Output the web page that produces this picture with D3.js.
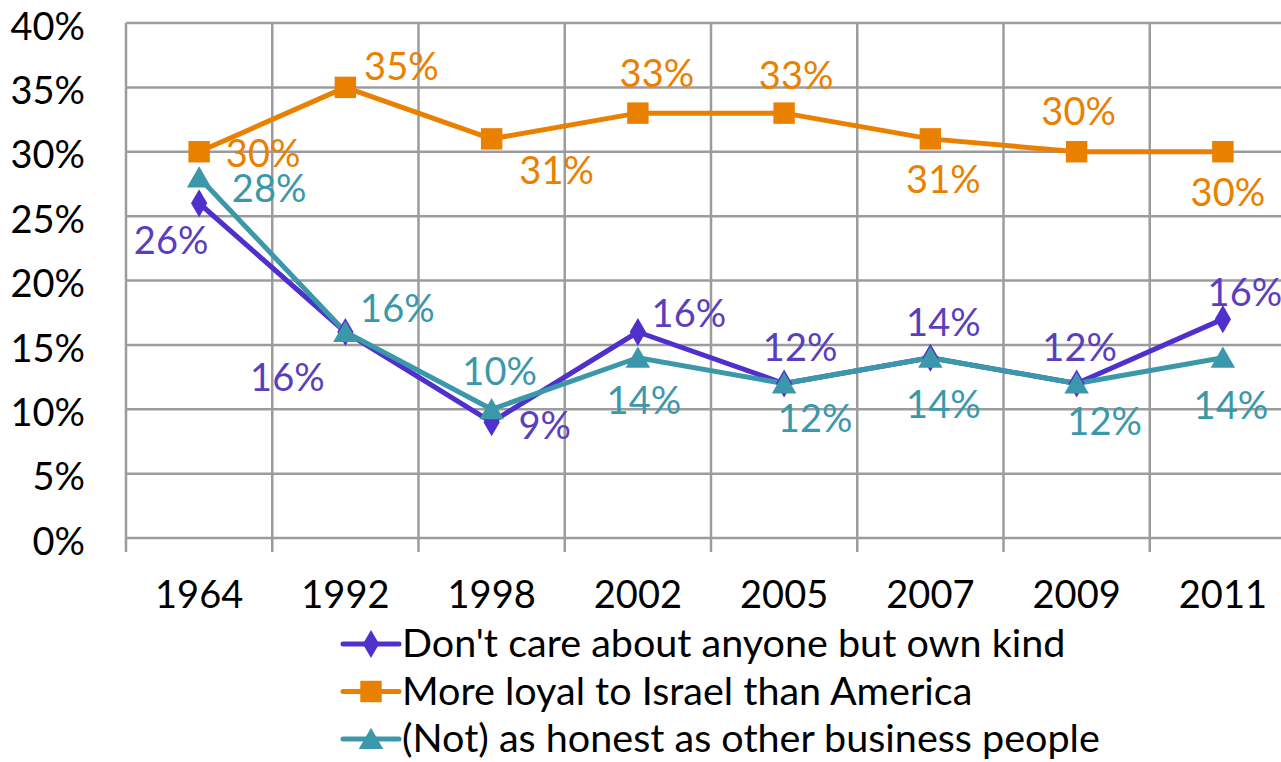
<!DOCTYPE html>
<html>
<head>
<meta charset="utf-8">
<script src="https://cdn.jsdelivr.net/npm/d3@7"></script>
<style>
  html, body { margin: 0; padding: 0; background: #fff; }
  svg { display: block; font-family: Lato, "Open Sans", sans-serif; }
</style>
</head>
<body>
<svg id="chart" width="1281" height="762"></svg>
<script>
// ── DATA ────────────────────────────────────────────────────────────────
const years = ['1964', '1992', '1998', '2002', '2005', '2007', '2009', '2011'];
const dontCare = [26, 16, 9, 16, 12, 14, 12, 17];
const dontCareLabels = ['26%', '16%', '9%', '16%', '12%', '14%', '12%', '16%'];
const moreLoyal = [30, 35, 31, 33, 33, 31, 30, 30];
const moreLoyalLabels = ['30%', '35%', '31%', '33%', '33%', '31%', '30%', '30%'];
const notHonest = [28, 16, 10, 14, 12, 14, 12, 14];
const notHonestLabels = ['28%', '16%', '10%', '14%', '12%', '14%', '12%', '14%'];
const yTicks = [0, 5, 10, 15, 20, 25, 30, 35, 40];
const seriesNames = [
  "Don't care about anyone but own kind",
  'More loyal to Israel than America',
  '(Not) as honest as other business people'
];

// label offsets from their point (layout only)
const dontCareOff = [[-28, 37], [-58, 46], [53, 4], [51, -18], [16, -36], [13, -35], [3, -36], [22, -26]];
const moreLoyalOff = [[64, 2], [56, -21], [65, 32], [19, -39], [12, -37], [13, 41], [2, -40], [5, 41]];
const notHonestOff = [[70, 11], [52, -23], [8, -38], [6, 43], [31, 35], [13, 47], [28, 38], [8, 48]];

const series = [
  { name: seriesNames[0], values: dontCare, labels: dontCareLabels, off: dontCareOff,
    color: '#5030CC', text: '#5B3EC0', marker: d3.symbolDiamond, size: 230 },
  { name: seriesNames[1], values: moreLoyal, labels: moreLoyalLabels, off: moreLoyalOff,
    color: '#EA8000', text: '#EA8000', marker: d3.symbolSquare, size: 460 },
  { name: seriesNames[2], values: notHonest, labels: notHonestLabels, off: notHonestOff,
    color: '#3B98AA', text: '#3B98AA', marker: d3.symbolTriangle, size: 260 }
];

// ── LAYOUT ──────────────────────────────────────────────────────────────
const svg = d3.select('#chart');
const plotLeft = 126, plotTop = 23, plotBottom = 538, band = 146.25;
const x = d3.scaleBand().domain(years).range([plotLeft, plotLeft + band * years.length]);
const y = d3.scaleLinear().domain([0, 40]).range([plotBottom, plotTop]);
const gridColor = '#9c9c9c';

// horizontal grid
svg.append('g')
  .selectAll('line')
  .data(yTicks)
  .join('line')
  .attr('x1', plotLeft).attr('x2', x.range()[1])
  .attr('y1', d => y(d)).attr('y2', d => y(d))
  .attr('stroke', gridColor).attr('stroke-width', 2.5);

// vertical grid + tick marks
const edges = years.map(yr => x(yr)).concat([x.range()[1]]);
svg.append('g')
  .selectAll('line')
  .data(edges)
  .join('line')
  .attr('x1', d => d).attr('x2', d => d)
  .attr('y1', plotTop).attr('y2', plotBottom + 14)
  .attr('stroke', gridColor).attr('stroke-width', 2.5);

// y axis labels
const yAxis = svg.append('g')
  .attr('transform', `translate(${plotLeft},4)`)
  .call(d3.axisLeft(y).tickValues(yTicks).tickSize(0).tickPadding(41).tickFormat(d => d + '%'));
yAxis.select('.domain').remove();
yAxis.selectAll('text')
  .attr('font-size', 38).attr('fill', '#000').attr('font-family', 'Lato, sans-serif');

// x axis labels
const xAxis = svg.append('g')
  .attr('transform', `translate(0,${plotBottom})`)
  .call(d3.axisBottom(x).tickSize(0).tickPadding(43));
xAxis.select('.domain').remove();
xAxis.selectAll('text')
  .attr('font-size', 38).attr('fill', '#000').attr('font-family', 'Lato, sans-serif');

// ── SERIES ──────────────────────────────────────────────────────────────
const line = d3.line()
  .x((d, i) => x(years[i]) + x.bandwidth() / 2)
  .y(d => y(d));

series.forEach(s => {
  svg.append('path')
    .datum(s.values)
    .attr('d', line)
    .attr('fill', 'none')
    .attr('stroke', s.color)
    .attr('stroke-width', 5)
    .attr('stroke-linejoin', 'round');
});

series.forEach(s => {
  svg.append('g')
    .selectAll('path')
    .data(s.values)
    .join('path')
    .attr('d', d3.symbol().type(s.marker).size(s.size))
    .attr('transform', (d, i) => {
      const dy = s.marker === d3.symbolTriangle ? 3 : 0;
      return `translate(${x(years[i]) + x.bandwidth() / 2},${y(d) + dy})`;
    })
    .attr('fill', s.color);
});

series.forEach(s => {
  svg.append('g')
    .selectAll('text')
    .data(s.values)
    .join('text')
    .attr('x', (d, i) => x(years[i]) + x.bandwidth() / 2 + s.off[i][0])
    .attr('y', (d, i) => y(d) + s.off[i][1])
    .attr('dy', '0.35em')
    .attr('text-anchor', 'middle')
    .attr('font-size', 38)
    .attr('fill', s.text)
    .text((d, i) => s.labels[i]);
});

// ── LEGEND ──────────────────────────────────────────────────────────────
const legend = svg.append('g').attr('transform', 'translate(343,644)');
const rows = legend.selectAll('g')
  .data(series)
  .join('g')
  .attr('transform', (d, i) => `translate(0,${i * 47.5})`);
rows.append('line')
  .attr('x1', 0).attr('x2', 56).attr('y1', 0).attr('y2', 0)
  .attr('stroke', d => d.color).attr('stroke-width', 5).attr('stroke-linecap', 'round');
rows.append('path')
  .attr('d', d => d3.symbol().type(d.marker).size(d.size)())
  .attr('transform', d => `translate(28,${d.marker === d3.symbolTriangle ? 3 : 0})`)
  .attr('fill', d => d.color);
rows.append('text')
  .attr('x', 59).attr('dy', '0.33em')
  .attr('font-size', 39.5).attr('fill', '#000')
  .text(d => d.name);
</script>
</body>
</html>
